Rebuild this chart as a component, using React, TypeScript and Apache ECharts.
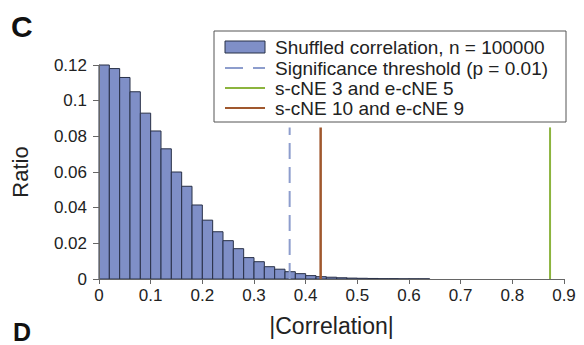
import React, { useEffect, useRef } from "react";
import * as echarts from "echarts";

// Histogram of shuffled |correlation| (bin width 0.02, starting at 0)
const binWidth = 0.02;
const shuffledRatio = [
  0.120, 0.118, 0.113, 0.105, 0.093, 0.083, 0.073, 0.060, 0.052, 0.0415,
  0.033, 0.0265, 0.0215, 0.017, 0.012, 0.0097, 0.0069, 0.0055, 0.0041, 0.003,
  0.0019, 0.0013, 0.001, 0.0007, 0.0005, 0.0004, 0.0003, 0.0002, 0.0002, 0.0001,
  0.0001, 0.0001,
];
const thresholdX = 0.369;
const cne3X = 0.873;
const cne10X = 0.429;
const lineTop = 0.085;
const legendLabels = [
  "Shuffled correlation, n = 100000",
  "Significance threshold (p = 0.01)",
  "s-cNE 3 and e-cNE 5",
  "s-cNE 10 and e-cNE 9",
];
const xTicks = { min: 0, max: 0.9, interval: 0.1 };
const yTicks = { min: 0, max: 0.12, interval: 0.02 };

const FONT = "'Liberation Sans', Arial, sans-serif";
const BAR_FILL = "#7f8fc7";
const BAR_STROKE = "#283047";
const DASH_COLOR = "#8d9dcd";
const GREEN = "#8cb43e";
const BROWN = "#a0582e";

export default function App() {
  const ref = useRef<HTMLDivElement>(null);
  useEffect(() => {
    document.body.style.margin = "0";
    if (!ref.current) return;
    const chart = echarts.init(ref.current, undefined, { renderer: "svg" });
    const histData = shuffledRatio.map((v, i) => [i * binWidth, (i + 1) * binWidth, v]);
    const vline = (x: number) => [
      [x, 0],
      [x, lineTop],
    ];
    const legendX = 214;
    const legendY = 31;
    const rowY = [47, 68, 88, 108];
    chart.setOption({
      animation: false,
      textStyle: { fontFamily: FONT },
      grid: { left: 99, right: 20, top: 65, bottom: 66 },
      xAxis: {
        type: "value",
        min: xTicks.min,
        max: xTicks.max,
        interval: xTicks.interval,
        splitLine: { show: false },
        axisLine: { lineStyle: { color: "#666", width: 1 } },
        axisTick: { show: true, length: 5, lineStyle: { color: "#666" } },
        axisLabel: { color: "#222", fontSize: 17, margin: 8, fontFamily: FONT },
        name: "|Correlation|",
        nameLocation: "middle",
        nameGap: 35,
        nameTextStyle: { color: "#222", fontSize: 23, fontFamily: FONT, verticalAlign: "top" },
        z: 5,
      },
      yAxis: {
        type: "value",
        min: yTicks.min,
        max: yTicks.max,
        interval: yTicks.interval,
        splitLine: { show: false },
        axisLine: { show: true, lineStyle: { color: "#666", width: 1 } },
        axisTick: { show: true, length: 6, lineStyle: { color: "#666" } },
        axisLabel: { color: "#222", fontSize: 17, margin: 12, fontFamily: FONT },
        name: "Ratio",
        nameLocation: "middle",
        nameGap: 68,
        nameRotate: 90,
        nameTextStyle: { color: "#222", fontSize: 22, fontFamily: FONT },
        z: 5,
      },
      series: [
        {
          type: "custom",
          name: legendLabels[0],
          data: histData,
          encode: { x: [0, 1], y: 2 },
          renderItem: (params: any, api: any) => {
            const p0 = api.coord([api.value(0), api.value(2)]);
            const p1 = api.coord([api.value(1), 0]);
            return {
              type: "rect",
              shape: { x: p0[0], y: p0[1], width: p1[0] - p0[0], height: p1[1] - p0[1] },
              style: { fill: BAR_FILL, stroke: BAR_STROKE, lineWidth: 1 },
            };
          },
          z: 2,
        },
        {
          type: "line",
          name: legendLabels[1],
          data: vline(thresholdX),
          showSymbol: false,
          symbol: "none",
          lineStyle: { color: DASH_COLOR, width: 2, type: [16, 8] },
          z: 3,
        },
        {
          type: "line",
          name: legendLabels[2],
          data: vline(cne3X),
          showSymbol: false,
          symbol: "none",
          lineStyle: { color: GREEN, width: 2 },
          z: 3,
        },
        {
          type: "line",
          name: legendLabels[3],
          data: vline(cne10X),
          showSymbol: false,
          symbol: "none",
          lineStyle: { color: BROWN, width: 2.5 },
          z: 3,
        },
      ],
      graphic: [
        {
          type: "text",
          left: 11,
          top: 11,
          style: { text: "C", fontSize: 30, fontWeight: "bold", fill: "#111", fontFamily: FONT },
        },
        {
          type: "text",
          left: 13,
          top: 319,
          style: { text: "D", fontSize: 25, fontWeight: "bold", fill: "#111", fontFamily: FONT },
        },
        {
          type: "rect",
          shape: { x: legendX, y: legendY, width: 352, height: 91 },
          style: { fill: "#fff", stroke: "#555", lineWidth: 1 },
          z: 10,
        },
        {
          type: "rect",
          shape: { x: 225, y: rowY[0] - 6, width: 40, height: 12 },
          style: { fill: BAR_FILL, stroke: BAR_STROKE, lineWidth: 1 },
          z: 11,
        },
        {
          type: "line",
          shape: { x1: 225, y1: rowY[1], x2: 265, y2: rowY[1] },
          style: { stroke: DASH_COLOR, lineWidth: 2, lineDash: [18, 10] },
          z: 11,
        },
        {
          type: "line",
          shape: { x1: 225, y1: rowY[2], x2: 265, y2: rowY[2] },
          style: { stroke: GREEN, lineWidth: 2 },
          z: 11,
        },
        {
          type: "line",
          shape: { x1: 225, y1: rowY[3], x2: 265, y2: rowY[3] },
          style: { stroke: BROWN, lineWidth: 2 },
          z: 11,
        },
        ...legendLabels.map((t, i) => ({
          type: "text",
          x: 275,
          y: rowY[i],
          z: 11,
          style: {
            text: t,
            fontSize: 19,
            fill: "#222",
            fontFamily: FONT,
            verticalAlign: "middle",
            align: "left",
          },
        })),
      ],
    });
    return () => chart.dispose();
  }, []);
  return <div ref={ref} style={{ width: 584, height: 345 }} />;
}
